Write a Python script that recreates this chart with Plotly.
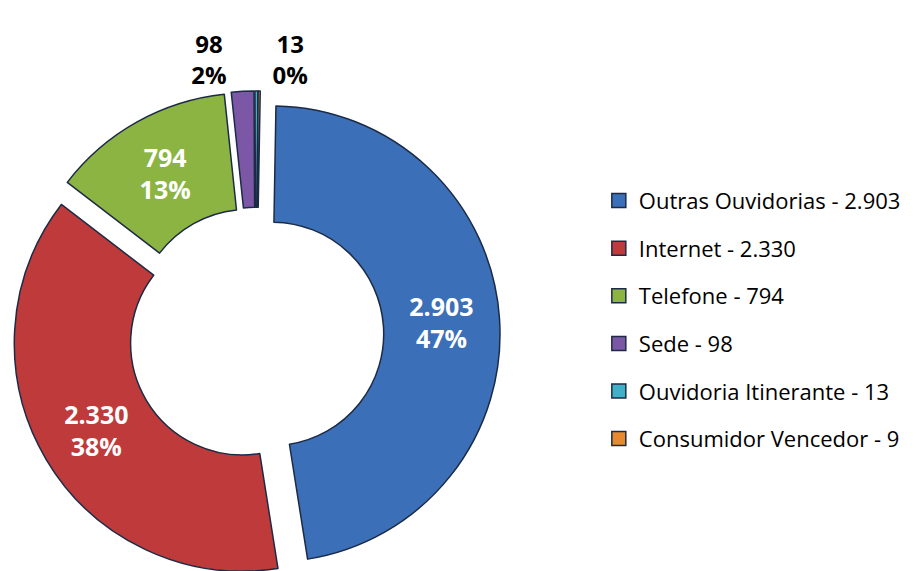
import plotly.graph_objects as go

labels = ['Outras Ouvidorias', 'Internet', 'Telefone', 'Sede', 'Ouvidoria Itinerante', 'Consumidor Vencedor']
values = [2903, 2330, 794, 98, 13, 9]
legend_text = ['Outras Ouvidorias - 2.903', 'Internet - 2.330', 'Telefone - 794', 'Sede - 98',
               'Ouvidoria Itinerante - 13', 'Consumidor Vencedor - 9']
colors = ['#3b6fb8', '#bf3a3a', '#8cb443', '#7b57a6', '#3fb0c8', '#e8892f']

font_family = 'Open Sans, Noto Sans, sans-serif'
label_tpl = '<b>%{value:,}<br>%{percent:.0%}</b>'

fig = go.Figure()
fig.add_trace(go.Pie(
    labels=labels, values=values, sort=False, direction='clockwise', rotation=1,
    hole=0.49, pull=[0.07] * len(values),
    marker=dict(colors=colors, line=dict(color='#1c2b45', width=1.5)),
    texttemplate=[label_tpl] * 5 + [''],
    textposition=['inside', 'inside', 'inside', 'outside', 'outside', 'none'],
    insidetextorientation='horizontal',
    insidetextfont=dict(color='white', size=25, family=font_family),
    outsidetextfont=dict(color='black', size=24, family=font_family),
    showlegend=False, hoverinfo='label+value+percent',
    domain=dict(x=[0.0044, 0.5372], y=[0, 1]),
))

# legend entries, one per category so the rows can be spaced out
for name, c in zip(legend_text, colors):
    fig.add_trace(go.Scatter(x=[None], y=[None], mode='markers', name=name, legendgroup=name,
                             marker=dict(symbol='square', size=14, color=c,
                                         line=dict(color='#1c2b45', width=1.5))))

fig.update_xaxes(visible=False)
fig.update_yaxes(visible=False)
fig.update_layout(
    width=916, height=571, separators=',.',
    margin=dict(l=0, r=0, t=83, b=0, autoexpand=False),
    paper_bgcolor='white', plot_bgcolor='white',
    font=dict(family=font_family, size=22, color='black'),
    legend=dict(x=0.645, y=0.818, xanchor='left', yanchor='top', tracegroupgap=16,
                font=dict(size=22, color='black'), bgcolor='rgba(0,0,0,0)'),
)
fig.write_html('out.html')
